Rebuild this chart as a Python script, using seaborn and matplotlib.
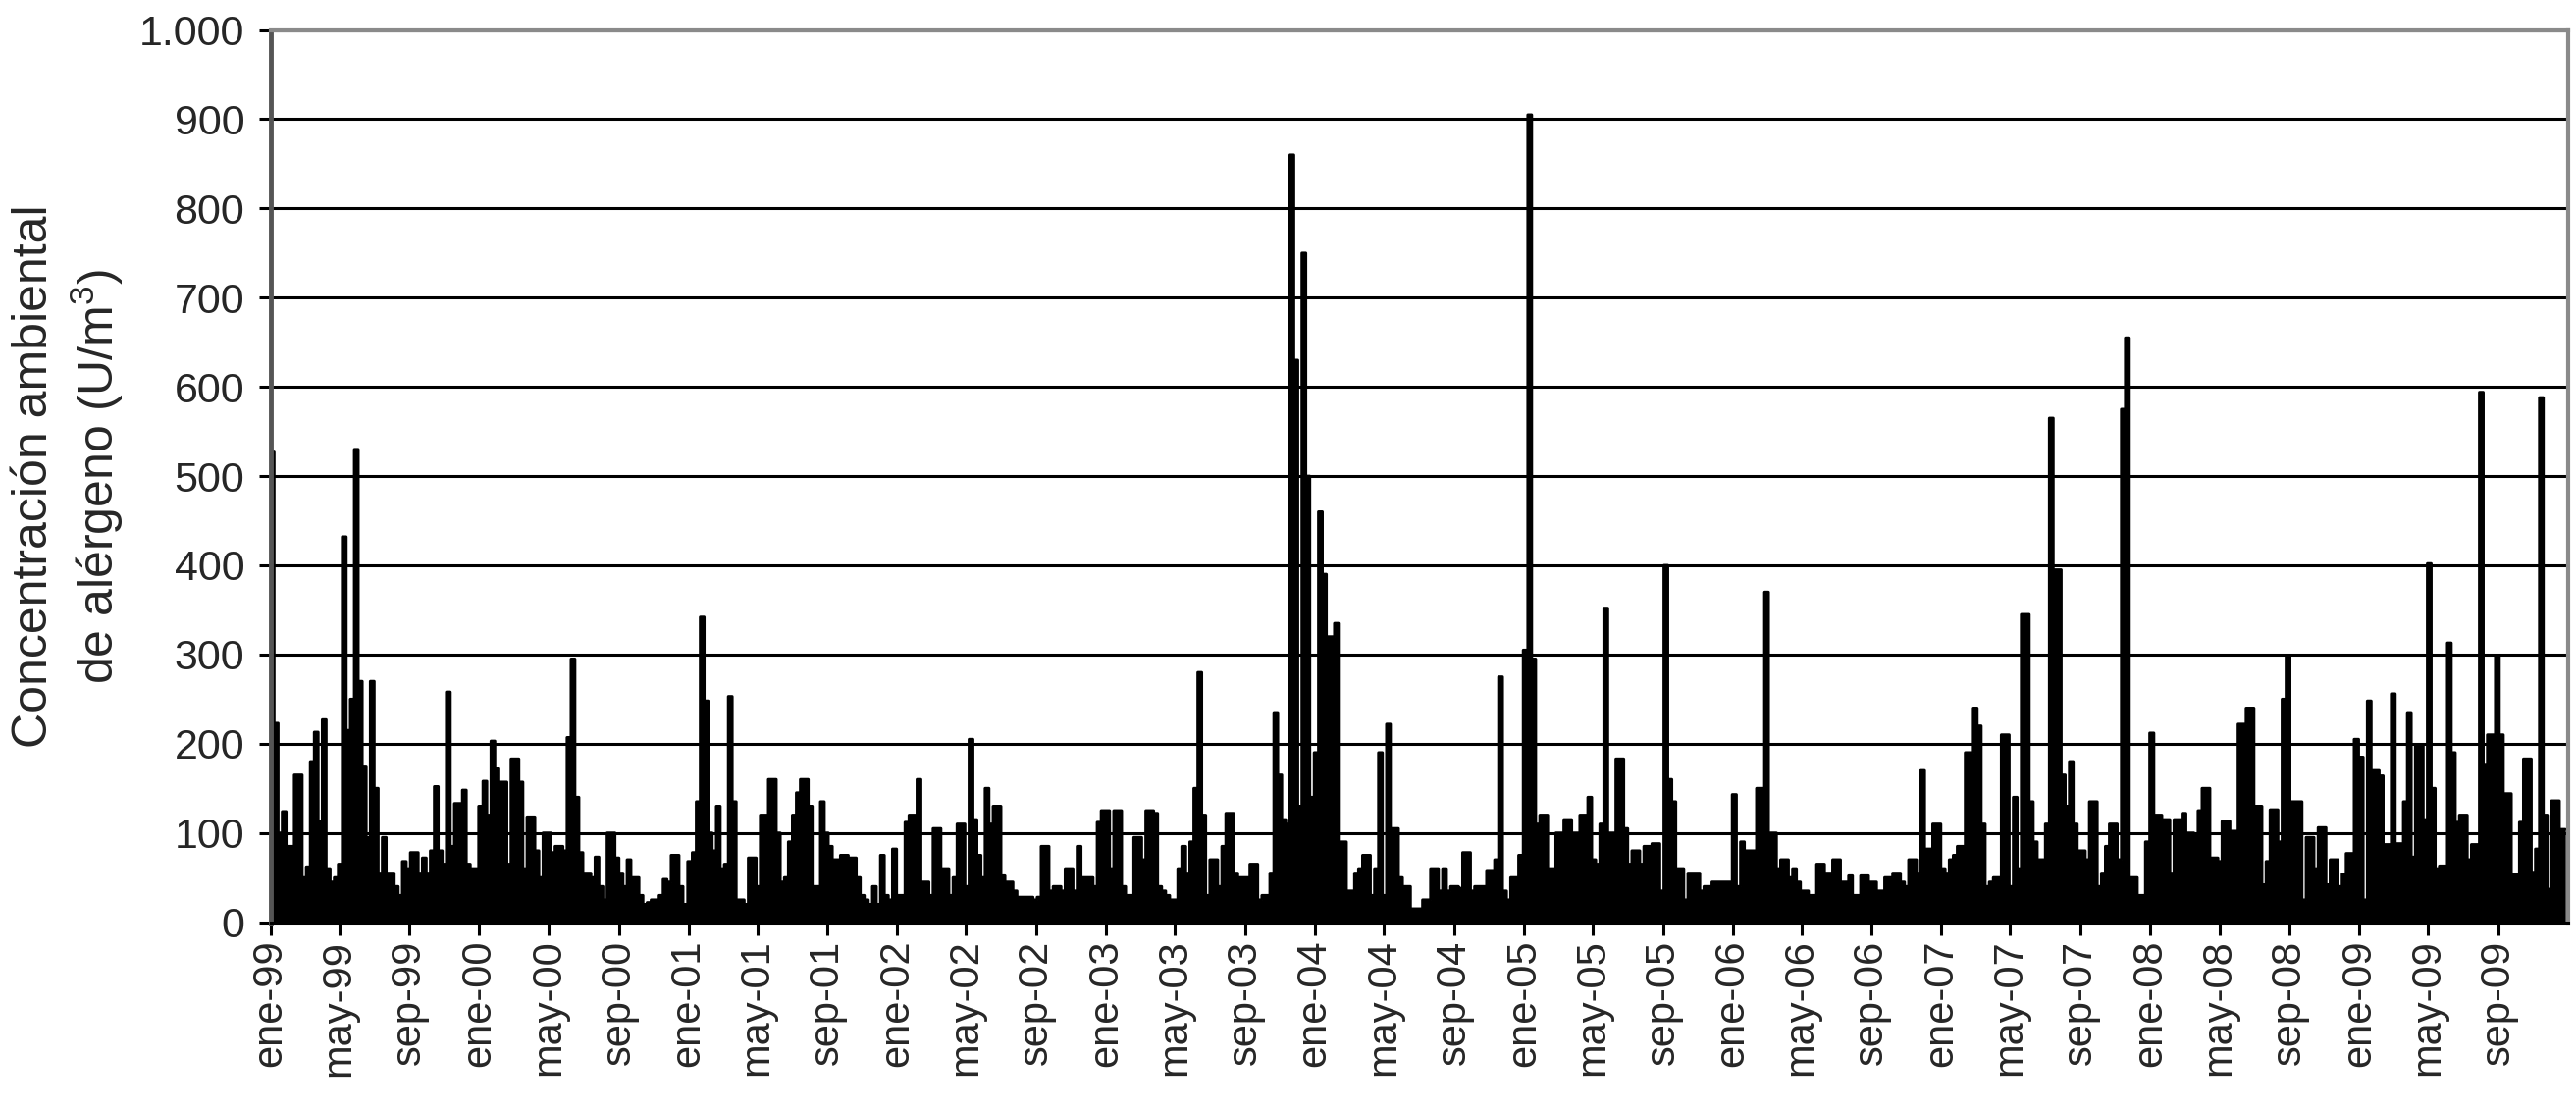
import pandas as pd
import matplotlib.pyplot as plt
import seaborn as sns
import numpy as np

# Weekly readings of the allergen concentration (U/m3), one list per year
years = list(range(1999, 2010))
conc_1999 = [527, 223, 100, 124, 85, 85, 165, 165, 50, 62, 180, 213, 113, 227, 60, 45, 50, 65, 432, 215,
             250, 530, 270, 175, 95, 270, 150, 55, 95, 55, 55, 40, 30, 68, 60, 78, 78, 55, 72, 55,
             80, 152, 80, 65, 258, 85, 133, 133, 148, 65, 60, 60]
conc_2000 = [130, 158, 120, 203, 172, 157, 157, 65, 183, 183, 157, 60, 118, 118, 80, 50, 100, 100, 78, 85,
             85, 80, 207, 295, 140, 78, 55, 55, 50, 73, 40, 25, 100, 100, 72, 55, 40, 70, 50, 50,
             30, 20, 22, 25, 25, 30, 48, 45, 75, 75, 40, 20]
conc_2001 = [68, 78, 135, 342, 248, 100, 80, 130, 60, 65, 253, 135, 25, 25, 20, 72, 72, 40, 120, 120,
             160, 160, 100, 45, 50, 90, 120, 145, 160, 160, 130, 40, 40, 135, 100, 85, 70, 70, 75, 75,
             72, 72, 50, 30, 25, 20, 40, 20, 75, 30, 25, 82]
conc_2002 = [30, 30, 112, 120, 120, 160, 45, 45, 30, 105, 105, 60, 60, 30, 50, 110, 110, 40, 205, 115,
             75, 50, 150, 110, 130, 130, 52, 45, 45, 35, 28, 28, 28, 28, 25, 28, 85, 85, 35, 40,
             40, 35, 60, 60, 35, 85, 50, 50, 50, 40, 112, 125]
conc_2003 = [125, 60, 125, 125, 40, 30, 30, 95, 95, 70, 125, 125, 122, 40, 35, 30, 25, 25, 60, 85,
             55, 90, 150, 280, 120, 30, 70, 70, 40, 85, 122, 122, 55, 50, 50, 50, 65, 65, 25, 30,
             30, 55, 235, 165, 115, 110, 860, 630, 130, 750, 500, 140]
conc_2004 = [190, 460, 390, 320, 320, 335, 90, 90, 35, 35, 55, 60, 75, 75, 30, 60, 190, 30, 222, 105,
             105, 50, 40, 40, 15, 15, 15, 25, 25, 60, 60, 35, 60, 35, 40, 40, 38, 78, 78, 35,
             40, 40, 40, 58, 58, 70, 275, 35, 25, 50, 50, 75]
conc_2005 = [305, 905, 295, 110, 120, 120, 60, 60, 100, 100, 115, 115, 100, 100, 120, 120, 140, 70, 65, 110,
             352, 100, 100, 183, 183, 105, 65, 80, 80, 65, 85, 85, 88, 88, 35, 400, 160, 135, 60, 60,
             25, 55, 55, 55, 35, 40, 40, 45, 45, 45, 45, 45]
conc_2006 = [143, 40, 90, 80, 80, 80, 150, 150, 370, 100, 100, 60, 70, 70, 50, 60, 45, 35, 35, 30,
             30, 65, 65, 55, 55, 70, 70, 45, 45, 52, 30, 30, 52, 52, 45, 45, 35, 35, 50, 50,
             55, 55, 45, 40, 70, 70, 55, 170, 82, 82, 110, 110]
conc_2007 = [60, 55, 70, 75, 85, 85, 190, 190, 240, 220, 110, 40, 45, 50, 50, 210, 210, 40, 140, 60,
             345, 345, 135, 90, 70, 70, 110, 565, 395, 395, 165, 130, 180, 110, 80, 80, 70, 135, 135, 40,
             55, 85, 110, 110, 70, 575, 655, 50, 50, 30, 30, 90]
conc_2008 = [212, 120, 120, 115, 115, 55, 115, 115, 122, 100, 100, 96, 125, 150, 150, 72, 72, 68, 113, 113,
             102, 102, 222, 222, 240, 240, 130, 130, 42, 68, 126, 126, 90, 250, 298, 135, 135, 135, 25, 95,
             95, 60, 106, 106, 42, 70, 70, 40, 54, 77, 77, 205]
conc_2009 = [185, 25, 248, 170, 170, 164, 87, 87, 256, 88, 88, 135, 235, 73, 198, 198, 115, 402, 150, 60,
             63, 63, 313, 190, 112, 120, 120, 70, 87, 87, 594, 177, 210, 210, 298, 210, 144, 144, 54, 54,
             112, 183, 183, 56, 82, 588, 120, 37, 136, 136, 104, 104]

series = [conc_1999, conc_2000, conc_2001, conc_2002, conc_2003, conc_2004,
          conc_2005, conc_2006, conc_2007, conc_2008, conc_2009]

frames = []
for year, vals in zip(years, series):
    fechas = pd.date_range(f'{year}-01-04', periods=len(vals), freq='7D')
    frames.append(pd.DataFrame({'fecha': fechas, 'conc': vals}))
df = pd.concat(frames, ignore_index=True)

sns.set_style('white')
plt.rcParams['font.family'] = ['Liberation Sans', 'DejaVu Sans']
plt.rcParams['mathtext.default'] = 'regular'

fig, ax = plt.subplots(figsize=(26.25, 11.32), dpi=100)
fig.subplots_adjust(left=0.105, right=0.997, top=0.973, bottom=0.170)

ax.fill_between(df['fecha'], df['conc'], step='mid', color='black', lw=0, zorder=2)
sns.lineplot(data=df, x='fecha', y='conc', color='black', lw=2, drawstyle='steps-mid', ax=ax, zorder=2)

# x axis: every 4 months, Spanish month abbreviations
ticks = pd.date_range('1999-01-01', '2009-09-01', freq='4MS')
meses = {1: 'ene', 5: 'may', 9: 'sep'}
ax.set_xticks(ticks)
ax.set_xticklabels([f"{meses[t.month]}-{t:%y}" for t in ticks], rotation=90, fontsize=30)
ax.set_xlim(pd.Timestamp('1999-01-01'), pd.Timestamp('2010-01-01'))

yt = np.arange(0, 1001, 100)
ax.set_ylim(0, 1000)
ax.set_yticks(yt)
ax.set_yticklabels(['1.000' if v == 1000 else str(v) for v in yt], fontsize=31)

ax.set_xlabel('')
ax.set_ylabel('Concentración ambiental\nde alérgeno (U/m$^3$)', fontsize=36, linespacing=1.25)
ax.yaxis.set_label_coords(-0.063, 0.5)

ax.set_axisbelow(True)
ax.yaxis.grid(True, color='black', lw=2.2)
ax.xaxis.grid(False)
ax.tick_params(axis='both', direction='out', length=9, width=2.2, color='black',
               bottom=True, left=True)
ax.tick_params(axis='y', pad=10)
ax.tick_params(axis='x', pad=4)

for side in ['top', 'right']:
    ax.spines[side].set_color('#8a8a8a')
    ax.spines[side].set_linewidth(3)
ax.spines['left'].set_color('#555555')
ax.spines['left'].set_linewidth(3.5)
ax.spines['bottom'].set_color('black')
ax.spines['bottom'].set_linewidth(2.2)

plt.savefig('out.png', dpi=100)
